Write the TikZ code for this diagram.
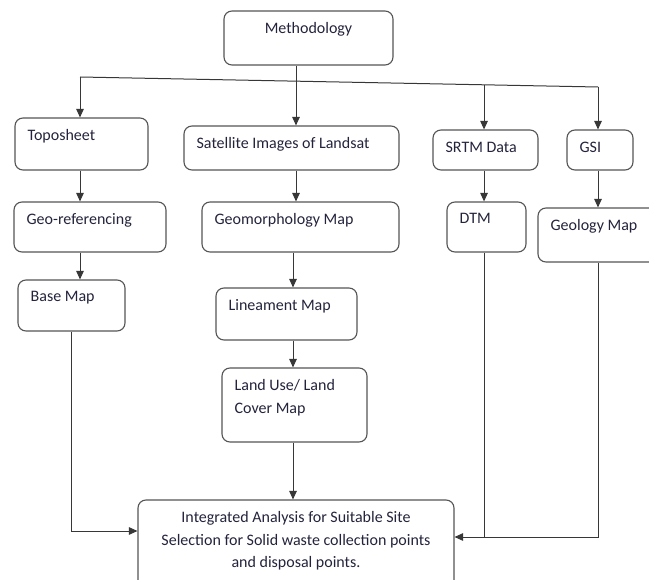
\documentclass[tikz,border=0pt]{standalone}
\usepackage{fontspec}
\setmainfont{Carlito}
\usetikzlibrary{positioning}
\usetikzlibrary{arrows.meta}
\usetikzlibrary{calc}
\definecolor{inkc}{RGB}{35,35,60}
\definecolor{linec}{RGB}{55,55,55}
\tikzset{
    mybox/.style = {rectangle, rounded corners=8pt, draw=linec!85, line width=1.1pt, inner sep=0pt},
    boxfont/.style = {inner sep=0pt, yshift=-12pt, text=inkc, font=\fontsize{16}{22.5}\selectfont},
    boxtxt/.style = {boxfont, anchor=north west, xshift=13pt, align=left},
    boxtxtc/.style = {boxfont, anchor=north, align=center},
    edgen/.style = {-{Triangle[length=8.5pt,width=7.5pt]}, line width=1pt, draw=linec},
    edgep/.style = {line width=1pt, draw=linec}
}

\begin{document}
\begin{tikzpicture}[x=1pt,y=-1pt]
    \useasboundingbox (0,0) rectangle (649,580);

    % boxes
    \node[mybox, minimum width=169, minimum height=54, label={[boxtxtc]north:Methodology}] (meth) at (308.5,38) {};
    \node[mybox, minimum width=133, minimum height=52, label={[boxtxt]north west:Toposheet}] (topo) at (81.5,144) {};
    \node[mybox, minimum width=215, minimum height=44, label={[boxtxt]north west:Satellite Images of Landsat}] (sat) at (291.5,148) {};
    \node[mybox, minimum width=105, minimum height=40, label={[boxtxt]north west:SRTM Data}] (srtm) at (485.5,150) {};
    \node[mybox, minimum width=66, minimum height=40, label={[boxtxt]north west:GSI}] (gsi) at (600,150) {};
    \node[mybox, minimum width=152, minimum height=50, label={[boxtxt]north west:Geo-referencing}] (georef) at (90,227) {};
    \node[mybox, minimum width=197, minimum height=50, label={[boxtxt]north west:Geomorphology Map}] (geomorph) at (300.5,227) {};
    \node[mybox, minimum width=79, minimum height=50, label={[boxtxt]north west:DTM}] (dtm) at (486.5,227) {};
    \node[mybox, minimum width=122, minimum height=54, label={[boxtxt]north west:Geology Map}] (geology) at (599,235) {};
    \node[mybox, minimum width=107, minimum height=51, label={[boxtxt]north west:Base Map}] (basemap) at (71.5,305.5) {};
    \node[mybox, minimum width=141, minimum height=52, label={[boxtxt]north west:Lineament Map}] (lineament) at (286.5,314) {};
    \node[mybox, minimum width=145, minimum height=74, label={[boxtxt]north west:Land Use/ Land\\Cover Map}] (landuse) at (294.5,405) {};
    \node[mybox, minimum width=316, minimum height=90, label={[boxtxtc]north:Integrated Analysis for Suitable Site\\Selection for Solid waste collection points\\and disposal points.}] (integ) at (296,545) {};

    \coordinate (bl) at (80,77);
    \coordinate (br) at (598,87);
    \coordinate (bs) at ($(bl)!0.78!(br)$);
    \coordinate (mx) at (296,0);
    \coordinate (lx) at (293,0);
    \coordinate (ja) at (0,531);
    \coordinate (jb) at (0,537);

    % connectors
    \draw[edgep] (bl) -- (br);
    \draw[edgen] (meth.south -| mx) -- (sat.north -| mx);
    \draw[edgen] (bl) -- (bl |- topo.north);
    \draw[edgen] (bs) -- (bs |- srtm.north);
    \draw[edgen] (br) -- (br |- gsi.north);
    \draw[edgen] (topo.south -| bl) -- (georef.north -| bl);
    \draw[edgen] (georef.south -| bl) -- (basemap.north -| bl);
    \draw[edgen] (sat.south -| mx) -- (geomorph.north -| mx);
    \draw[edgen] (geomorph.south -| lx) -- (lineament.north -| lx);
    \draw[edgen] (lineament.south -| lx) -- (landuse.north -| lx);
    \draw[edgen] (landuse.south -| lx) -- (integ.north -| lx);
    \draw[edgen] (srtm.south -| bs) -- (dtm.north -| bs);
    \draw[edgen] (gsi.south -| br) -- (geology.north -| br);
    \draw[edgen] (basemap.south) |- (integ.west |- ja);
    \draw[edgep] (dtm.south -| bs) -- (bs |- jb);
    \draw[edgen] (geology.south -| br) |- (integ.east |- jb);

\end{tikzpicture}
\end{document}
